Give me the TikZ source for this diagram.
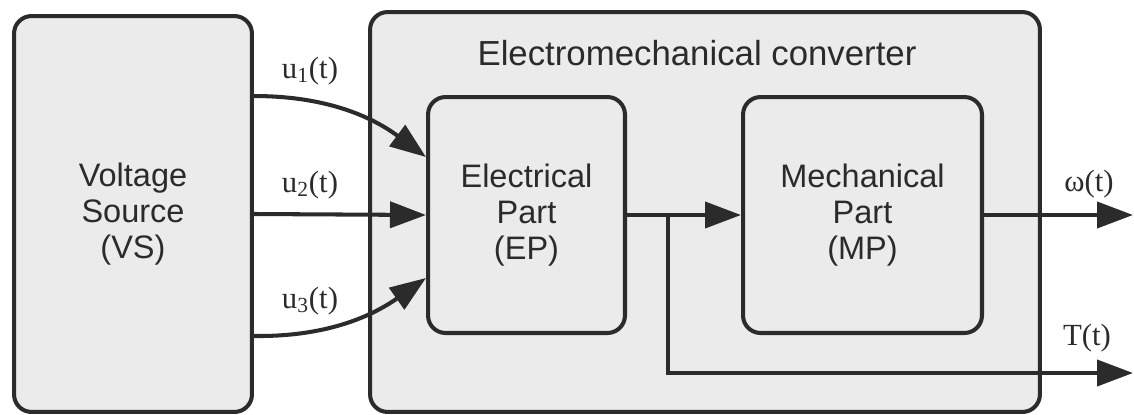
\documentclass[tikz,border=0pt]{standalone}
\usepackage{fontspec}
\setmainfont{Liberation Serif}
\setsansfont{Liberation Sans}
\usepackage{tikz}
\usetikzlibrary{arrows.meta, positioning}
\definecolor{boxgray}{HTML}{EBEBEB}
\definecolor{linegray}{HTML}{2B2B2B}

\begin{document}
\begin{tikzpicture}[
    x=0.02cm, y=0.02cm,
    block/.style={rectangle, draw=linegray, fill=boxgray, line width=2.3pt,
                  rounded corners=10pt, align=center, text=linegray,
                  font=\sffamily\fontsize{18.5}{20.5}\selectfont},
    sig/.style={-{Triangle[length=0.72cm, width=0.52cm]}, line width=2.3pt, linegray},
    lab/.style={font=\fontsize{17.5}{20}\selectfont, text=linegray},
  ]
  \useasboundingbox (0,0) rectangle (1134,414);

  \node[block, minimum width=13.4cm, minimum height=8cm] (conv) at (705,202) {};
  \node[font=\sffamily\fontsize{19.8}{22}\selectfont, text=linegray] (title) at (697,361) {Electromechanical converter};
  \node[block, minimum width=4.76cm, minimum height=7.92cm] (vs) at (133,200) {Voltage\\Source\\(VS)};
  \node[block, minimum width=3.94cm, minimum height=4.72cm] (ep) at (526.5,199) {Electrical\\Part\\(EP)};
  \node[block, minimum width=4.78cm, minimum height=4.72cm] (mp) at (862.5,199) {Mechanical\\Part\\(MP)};

  \coordinate (branch) at (668,199);
  \coordinate (wout) at (1133,199);
  \coordinate (tout) at (1133,41);

  % signal labels
  \node[lab] (lu1) at (310,343) {u\textsubscript{1}(t)};
  \node[lab] (lu2) at (310,229) {u\textsubscript{2}(t)};
  \node[lab] (lu3) at (310,113) {u\textsubscript{3}(t)};
  \node[lab] (lw) at (1089,230) {ω(t)};
  \node[lab] (lT) at (1087,76) {T(t)};

  % inputs
  \draw[sig] ([yshift=2.36cm]vs.east) .. controls (330,318) and (375,295) .. ([yshift=1.16cm]ep.west);
  \draw[sig] (vs.east) -- (ep.west);
  \draw[sig] ([yshift=-2.44cm]vs.east) .. controls (330,77) and (375,100) .. ([yshift=-1.26cm]ep.west);

  % outputs
  \draw[sig] (ep.east) -- (mp.west);
  \draw[sig] (mp.east) -- (wout);
  \draw[sig] (branch) |- (tout);
\end{tikzpicture}
\end{document}
